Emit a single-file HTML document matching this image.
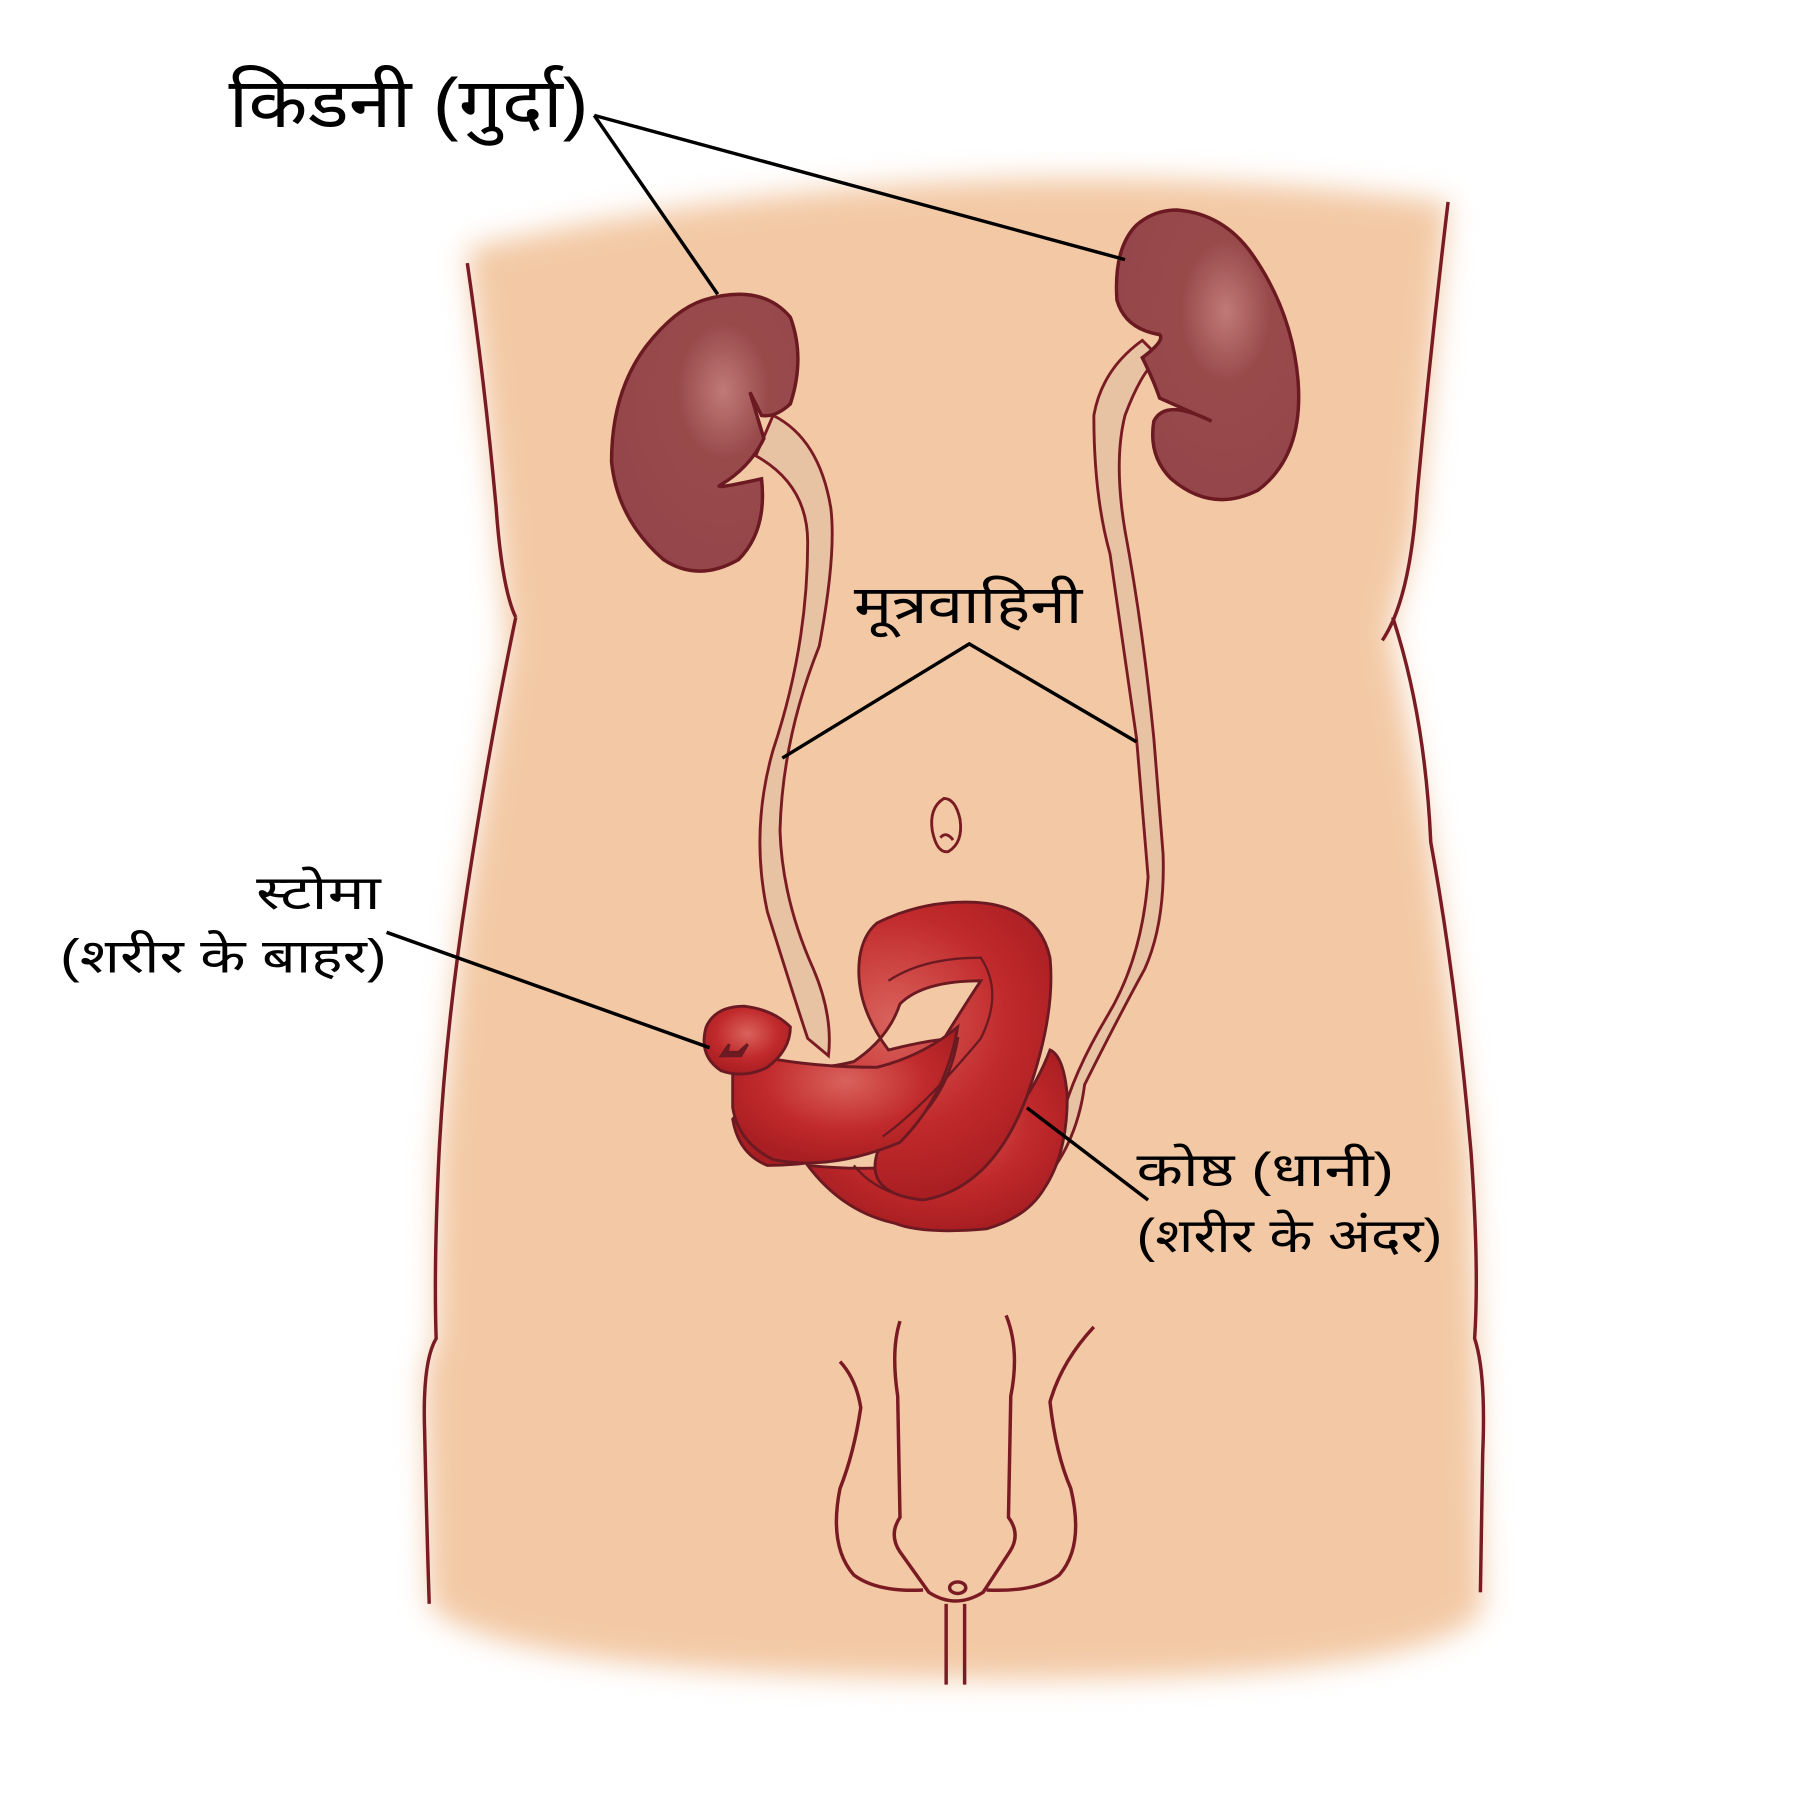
<!DOCTYPE html>
<html><head><meta charset="utf-8"><style>
html,body{margin:0;padding:0;background:#fff}
svg{display:block}
text{font-family:"Liberation Sans","Noto Sans Devanagari","Lohit Devanagari","DejaVu Sans",sans-serif;fill:#000}
</style></head><body>
<svg width="1800" height="1800" viewBox="0 0 1560 1560" xmlns="http://www.w3.org/2000/svg">
<defs>
<filter id="b" x="-10%" y="-10%" width="120%" height="120%"><feGaussianBlur stdDeviation="12"/></filter>
<radialGradient id="k" cx="0.6" cy="0.35" r="0.7"><stop offset="0" stop-color="#c07a78"/><stop offset="0.35" stop-color="#984a4b"/><stop offset="1" stop-color="#93454a"/></radialGradient>
<radialGradient id="r" cx="0.5" cy="0.4" r="0.6"><stop offset="0" stop-color="#d9625c"/><stop offset="0.6" stop-color="#c12a2c"/><stop offset="1" stop-color="#a81e22"/></radialGradient>
</defs>
<path filter="url(#b)" fill="#f3c9a5" d="M405 215 Q820 120 1255 175 L1228 460 L1205 545 L1240 730 L1275 1000 L1280 1160 L1285 1395 Q1240 1460 830 1455 Q420 1450 372 1390 L368 1190 L378 1160 L380 1000 L400 800 L440 560 L430 440 Z"/>
<g fill="none" stroke="#7a1b24" stroke-width="3">
<path d="M405 228 Q420 330 430 440 Q435 510 447 535"/>
<path d="M447 535 Q425 640 405 770 Q385 900 380 1010 Q376 1100 378 1160 Q366 1180 368 1240 Q370 1330 372 1390"/>
<path d="M1255 175 Q1240 300 1228 430 Q1222 520 1198 555"/>
<path d="M1207 535 Q1235 620 1240 730 Q1262 850 1275 1000 Q1282 1100 1278 1160 Q1288 1190 1285 1260 Q1284 1330 1283 1380"/>
<path d="M818 692 Q805 700 808 720 Q812 740 822 738 Q835 730 832 710 Q828 692 818 692 Z M815 726 Q820 720 826 728" stroke-width="2.5"/>
<path d="M728 1180 Q742 1195 746 1220 Q740 1260 728 1290 Q718 1340 740 1365 Q760 1380 800 1378"/>
<path d="M780 1145 Q772 1170 778 1210 L780 1315 Q770 1330 780 1345 L805 1380 Q828 1395 852 1380 L875 1345 Q885 1330 874 1315 L876 1210 Q884 1170 872 1140"/>
<path d="M948 1150 Q920 1180 910 1215 Q915 1260 928 1290 Q940 1340 918 1365 Q898 1380 855 1378"/>
<path d="M820 1390 L820 1460 M836 1390 L836 1460"/>
<ellipse cx="830" cy="1376" rx="7" ry="5"/>
</g>
<g stroke="#7a1b24" stroke-width="2.5">
<path fill="#e7c2a3" d="M655 395 Q700 420 700 470 Q700 560 670 650 Q650 720 665 790 Q690 870 700 900 L718 915 Q722 880 705 840 Q678 780 676 720 Q678 640 710 560 Q725 480 720 440 Q710 380 670 360 Z"/>
<path fill="#e7c2a3" d="M990 295 Q955 320 948 360 Q948 430 962 480 L985 640 L995 760 Q990 830 960 880 Q930 930 920 970 L900 1005 L915 1010 Q935 980 940 940 Q970 880 992 840 Q1010 800 1008 740 L1000 640 Q990 540 975 460 Q965 400 975 360 Q990 320 1005 310 Z"/>
</g>
<g fill="url(#k)" stroke="#6b1a22" stroke-width="3">
<path d="M610 260 Q660 245 685 275 Q698 310 685 350 Q672 362 660 360 L650 340 L662 380 Q650 405 625 420 Q615 425 660 415 Q665 460 640 485 Q605 505 575 485 Q535 450 530 400 Q530 340 560 300 Q585 268 610 260 Z"/>
<path d="M1020 182 Q1060 185 1085 220 Q1120 270 1125 330 Q1130 395 1090 425 Q1050 445 1015 415 Q995 395 1000 365 Q1010 345 1050 365 L1005 345 Q1000 330 990 310 Q1010 295 1005 290 Q975 285 968 260 Q965 215 985 195 Q1000 182 1020 182 Z"/>
</g>
<g stroke="#6b1a22" stroke-width="2.5" fill="url(#r)">
<path d="M700 1010 Q730 1050 775 1060 Q800 1070 855 1065 Q890 1055 905 1030 Q925 1000 925 950 Q922 915 910 910 Q895 950 860 990 Q800 1020 700 1010 Z"/>
<path d="M760 800 Q800 780 845 782 Q900 785 910 830 Q915 880 890 950 Q860 1030 800 1040 Q750 1035 760 1000 Q780 960 800 930 Q830 880 850 850 Q800 850 780 870 Q770 900 740 920 Q700 930 680 920 L690 930 Q650 950 635 970 Q640 1000 665 1010 Q720 1010 770 990 Q820 960 830 900 Q810 900 770 910 Q740 870 745 830 Q748 810 760 800 Z"/>
<path d="M635 910 Q690 925 760 925 Q800 915 830 890 Q820 950 780 990 Q720 1015 670 1005 Q640 990 635 960 Z"/>
<path d="M612 890 Q620 872 645 872 Q670 875 685 890 Q685 910 665 925 Q645 935 625 928 Q605 915 612 890 Z"/>
<path d="M625 915 L632 905 L630 912 L640 912 L648 905 L642 915 Z" fill="#7a1b24"/>
</g>
<g fill="none" stroke="#6b1a22" stroke-width="2">
<path d="M770 850 Q800 830 850 830 Q870 860 850 900"/>
<path d="M765 985 Q800 960 850 900"/>
<path d="M740 1010 Q760 1035 800 1040"/>
</g>
<g stroke="#000" stroke-width="3" fill="none">
<path d="M515 100 L622 255 M515 100 L975 225"/>
<path d="M678 657 L840 558 L985 643"/>
<path d="M335 808 L615 908"/>
<path d="M890 960 L995 1040"/>
</g>
<text x="198" y="110" font-size="60" textLength="312" lengthAdjust="spacingAndGlyphs">किडनी (गुर्दा)</text>
<text x="740" y="540" font-size="46" textLength="198" lengthAdjust="spacingAndGlyphs">मूत्रवाहिनी</text>
<text x="222" y="788" font-size="41" textLength="108" lengthAdjust="spacingAndGlyphs">स्टोमा</text>
<text x="52" y="843" font-size="41" textLength="283" lengthAdjust="spacingAndGlyphs">(शरीर के बाहर)</text>
<text x="985" y="1028" font-size="41" textLength="223" lengthAdjust="spacingAndGlyphs">कोष्ठ (धानी)</text>
<text x="985" y="1085" font-size="41" textLength="265" lengthAdjust="spacingAndGlyphs">(शरीर के अंदर)</text>
</svg>
</body></html>
